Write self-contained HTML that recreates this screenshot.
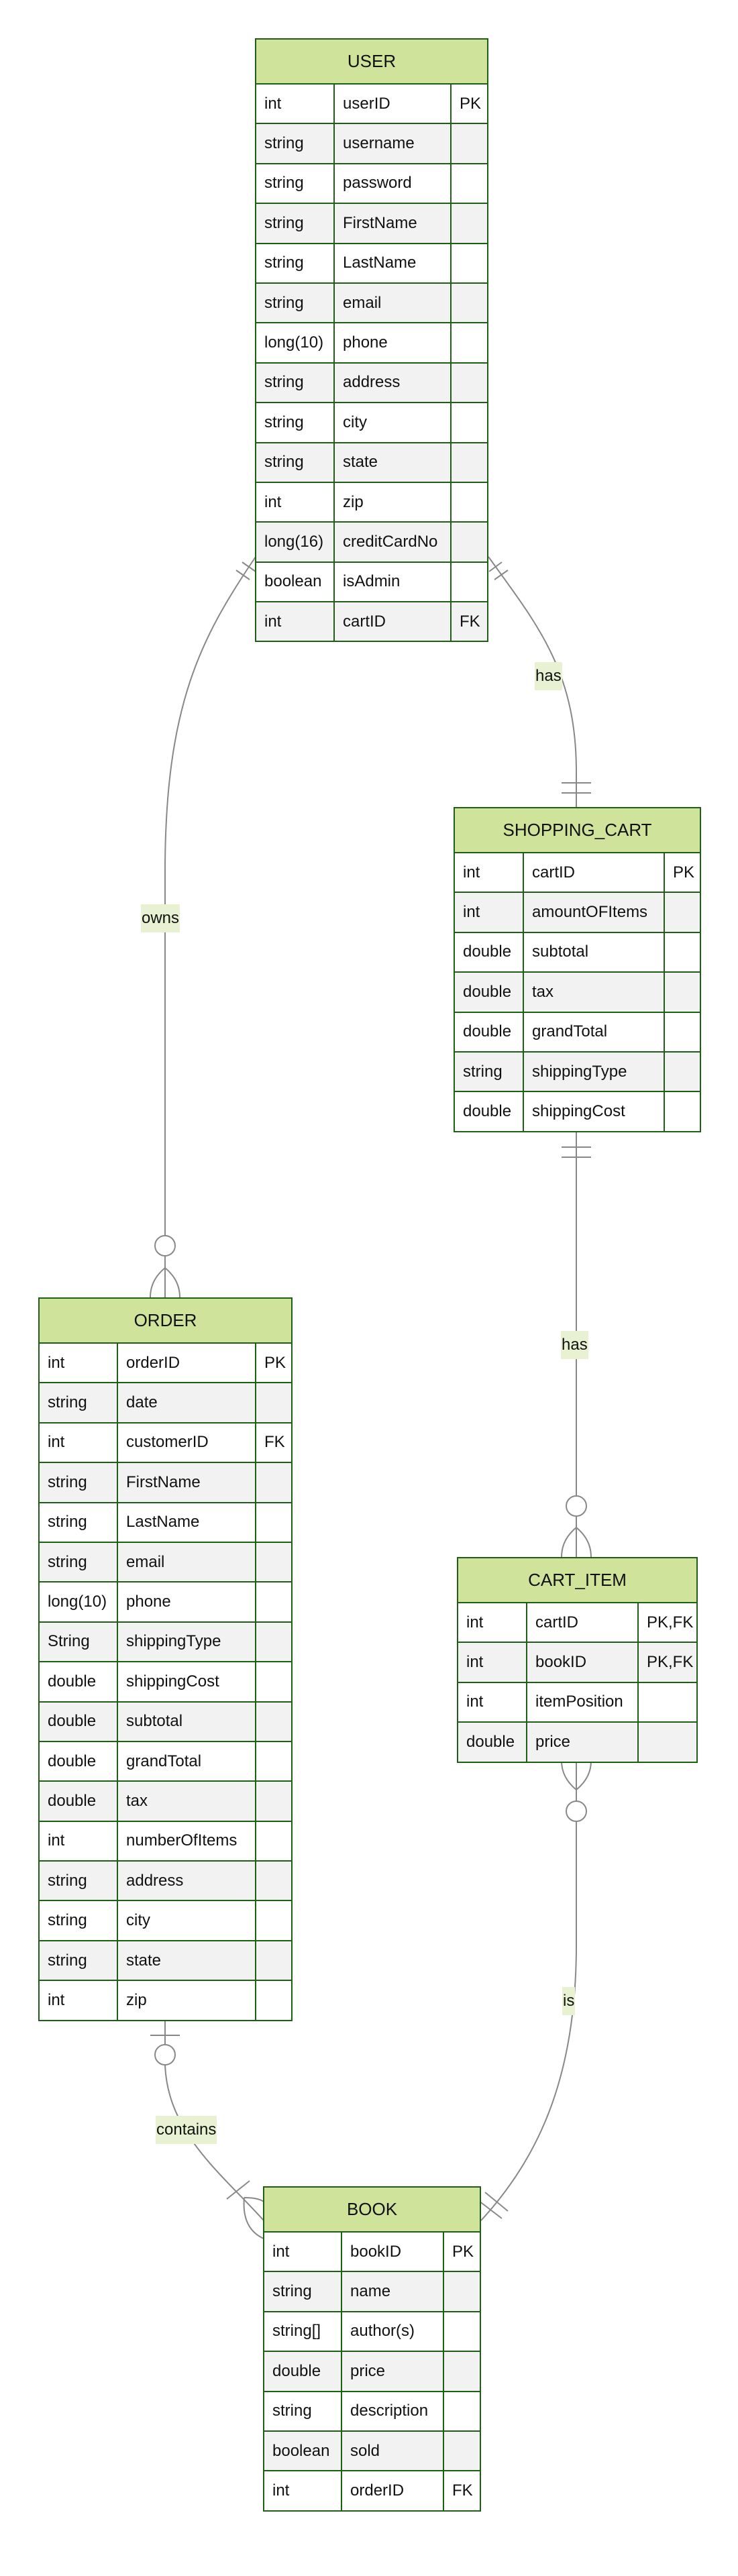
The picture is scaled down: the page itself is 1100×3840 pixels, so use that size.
<!DOCTYPE html>
<html><head><meta charset="utf-8">
<style>
html,body{margin:0;padding:0;background:#fff;}
body{width:1100px;height:3840px;position:relative;overflow:hidden;font-family:"Liberation Sans",sans-serif;}
svg.c{position:absolute;left:0;top:0;}
table{position:absolute;border-collapse:collapse;table-layout:fixed;font-size:24px;color:#111;}
td{border:2px solid #1f5e16;padding:0 0 0 12px;height:59.4px;box-sizing:border-box;white-space:nowrap;overflow:hidden;}
th{border:2px solid #1f5e16;background:#cfe39a;height:67px;font-weight:normal;font-size:26px;box-sizing:border-box;}
tr:nth-child(odd) td{background:#f2f2f2;}
tr:nth-child(even) td{background:#fff;}
.lbl{position:absolute;background:#e8f2d2;font-size:24px;line-height:42px;padding:0 1px;color:#111;}
</style></head><body>
<svg class="c" width="1100" height="3840" viewBox="0 0 1100 3840" fill="none" stroke="#888" stroke-width="2">
<path d="M381 830 C300 950 246 1050 246 1300 L246 1842"/>
<line x1="361" y1="838" x2="381" y2="852"/><line x1="352" y1="850" x2="372" y2="864"/>
<circle cx="246" cy="1857" r="15" fill="#fff"/>
<path d="M246 1872 L246 1934 M246 1890 Q224 1908 224 1934 M246 1890 Q268 1908 268 1934"/>
<path d="M728 830 C800 930 859 1000 859 1150 L859 1203"/>
<line x1="729" y1="852" x2="748" y2="838"/><line x1="737" y1="864" x2="757" y2="850"/>
<line x1="837" y1="1167" x2="881" y2="1167"/><line x1="837" y1="1182" x2="881" y2="1182"/>
<path d="M859 1687 L859 2230"/>
<line x1="837" y1="1710" x2="881" y2="1710"/><line x1="837" y1="1725" x2="881" y2="1725"/>
<circle cx="859" cy="2245" r="15" fill="#fff"/>
<path d="M859 2260 L859 2321 M859 2277 Q837 2295 837 2321 M859 2277 Q881 2295 881 2321"/>
<path d="M859 2625 L859 2685"/>
<path d="M859 2668 Q837 2650 837 2625 M859 2668 Q881 2650 881 2625"/>
<circle cx="859" cy="2700" r="15" fill="#fff"/>
<path d="M859 2715 L859 2900 C859 3100 800 3220 717 3310"/>
<line x1="723" y1="3268" x2="757" y2="3296"/><line x1="714" y1="3281" x2="748" y2="3307"/>
<path d="M246 3011 L246 3048"/>
<line x1="224" y1="3034" x2="268" y2="3034"/>
<circle cx="246" cy="3063" r="15" fill="#fff"/>
<path d="M246 3078 C250 3180 330 3240 393 3310"/>
<line x1="338" y1="3278" x2="372" y2="3251"/>
<path d="M364 3276 Q385 3276 393 3282 M364 3276 Q360 3322 393 3337"/>
</svg>

<div class="lbl" style="left:210px;top:1348px;">owns</div>
<div class="lbl" style="left:797px;top:987px;">has</div>
<div class="lbl" style="left:836px;top:1984px;">has</div>
<div class="lbl" style="left:838px;top:2962px;">is</div>
<div class="lbl" style="left:232px;top:3154px;">contains</div>

<table style="left:380px;top:57px;width:346px;">
<colgroup><col style="width:117px"><col style="width:174px"><col style="width:55px"></colgroup>
<tr><th colspan="3">USER</th></tr>
<tr><td>int</td><td>userID</td><td>PK</td></tr>
<tr><td>string</td><td>username</td><td></td></tr>
<tr><td>string</td><td>password</td><td></td></tr>
<tr><td>string</td><td>FirstName</td><td></td></tr>
<tr><td>string</td><td>LastName</td><td></td></tr>
<tr><td>string</td><td>email</td><td></td></tr>
<tr><td>long(10)</td><td>phone</td><td></td></tr>
<tr><td>string</td><td>address</td><td></td></tr>
<tr><td>string</td><td>city</td><td></td></tr>
<tr><td>string</td><td>state</td><td></td></tr>
<tr><td>int</td><td>zip</td><td></td></tr>
<tr><td>long(16)</td><td>creditCardNo</td><td></td></tr>
<tr><td>boolean</td><td>isAdmin</td><td></td></tr>
<tr><td>int</td><td>cartID</td><td>FK</td></tr>
</table>

<table style="left:676px;top:1203px;width:367px;">
<colgroup><col style="width:103px"><col style="width:210px"><col style="width:54px"></colgroup>
<tr><th colspan="3">SHOPPING_CART</th></tr>
<tr><td>int</td><td>cartID</td><td>PK</td></tr>
<tr><td>int</td><td>amountOFItems</td><td></td></tr>
<tr><td>double</td><td>subtotal</td><td></td></tr>
<tr><td>double</td><td>tax</td><td></td></tr>
<tr><td>double</td><td>grandTotal</td><td></td></tr>
<tr><td>string</td><td>shippingType</td><td></td></tr>
<tr><td>double</td><td>shippingCost</td><td></td></tr>
</table>

<table style="left:57px;top:1934px;width:377px;">
<colgroup><col style="width:117px"><col style="width:206px"><col style="width:54px"></colgroup>
<tr><th colspan="3">ORDER</th></tr>
<tr><td>int</td><td>orderID</td><td>PK</td></tr>
<tr><td>string</td><td>date</td><td></td></tr>
<tr><td>int</td><td>customerID</td><td>FK</td></tr>
<tr><td>string</td><td>FirstName</td><td></td></tr>
<tr><td>string</td><td>LastName</td><td></td></tr>
<tr><td>string</td><td>email</td><td></td></tr>
<tr><td>long(10)</td><td>phone</td><td></td></tr>
<tr><td>String</td><td>shippingType</td><td></td></tr>
<tr><td>double</td><td>shippingCost</td><td></td></tr>
<tr><td>double</td><td>subtotal</td><td></td></tr>
<tr><td>double</td><td>grandTotal</td><td></td></tr>
<tr><td>double</td><td>tax</td><td></td></tr>
<tr><td>int</td><td>numberOfItems</td><td></td></tr>
<tr><td>string</td><td>address</td><td></td></tr>
<tr><td>string</td><td>city</td><td></td></tr>
<tr><td>string</td><td>state</td><td></td></tr>
<tr><td>int</td><td>zip</td><td></td></tr>
</table>

<table style="left:681px;top:2321px;width:357px;">
<colgroup><col style="width:103px"><col style="width:166px"><col style="width:88px"></colgroup>
<tr><th colspan="3">CART_ITEM</th></tr>
<tr><td>int</td><td>cartID</td><td>PK,FK</td></tr>
<tr><td>int</td><td>bookID</td><td>PK,FK</td></tr>
<tr><td>int</td><td>itemPosition</td><td></td></tr>
<tr><td>double</td><td>price</td><td></td></tr>
</table>

<table style="left:392px;top:3259px;width:323px;">
<colgroup><col style="width:116px"><col style="width:152px"><col style="width:55px"></colgroup>
<tr><th colspan="3">BOOK</th></tr>
<tr><td>int</td><td>bookID</td><td>PK</td></tr>
<tr><td>string</td><td>name</td><td></td></tr>
<tr><td>string[]</td><td>author(s)</td><td></td></tr>
<tr><td>double</td><td>price</td><td></td></tr>
<tr><td>string</td><td>description</td><td></td></tr>
<tr><td>boolean</td><td>sold</td><td></td></tr>
<tr><td>int</td><td>orderID</td><td>FK</td></tr>
</table>
</body></html>
